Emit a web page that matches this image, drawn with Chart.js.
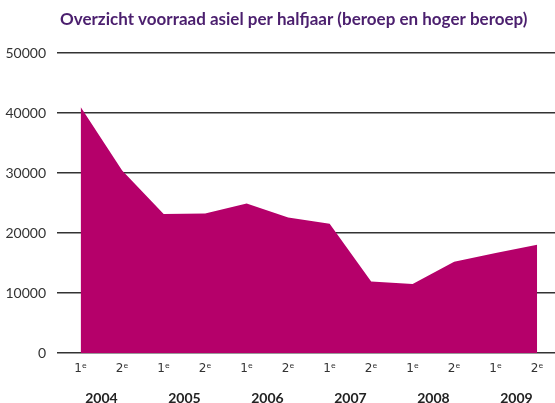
<!DOCTYPE html>
<html>
<head>
<meta charset="utf-8">
<script src="https://cdn.jsdelivr.net/npm/chart.js@4"></script>
<style>
    body { margin: 0; background: #fff; }
    #wrap { width: 555px; height: 403px; position: relative; }
</style>
</head>
<body>
<div id="wrap"><canvas id="myChart"></canvas></div>
<script>
// halfjaar labels and year groups
const halves = ["1ᵉ", "2ᵉ", "1ᵉ", "2ᵉ", "1ᵉ", "2ᵉ", "1ᵉ", "2ᵉ", "1ᵉ", "2ᵉ", "1ᵉ", "2ᵉ"];
const years = ["2004", "2005", "2006", "2007", "2008", "2009"];
// voorraad asiel (beroep en hoger beroep)
const voorraad = [41000, 30400, 23150, 23250, 24900, 22600, 21550, 11900, 11500, 15200, 16650, 18050];
const yTicks = [0, 10000, 20000, 30000, 40000, 50000];

const titleText = "Overzicht voorraad asiel per halfjaar (beroep en hoger beroep)";

// draw the title at the top-left, above the plot
const titlePlugin = {
    id: "customTitle",
    afterDraw(chart) {
        const c = chart.ctx;
        c.save();
        c.font = "bold 17px Lato";
        c.fillStyle = "#4b1f6e";
        c.textBaseline = "alphabetic";
        c.textAlign = "left";
        c.fillText(titleText, 60, 25);
        c.restore();
    }
};

const xMin = -0.57, xMax = 11.43;

var ctx = document.getElementById("myChart");
var myChart = new Chart(ctx, {
    type: "line",
    data: {
        datasets: [
            {
                label: "Voorraad",
                data: voorraad.map((v, i) => ({ x: i, y: v })),
                borderWidth: 0,
                borderColor: "#b5006a",
                backgroundColor: "#b5006a",
                pointRadius: 0,
                tension: 0,
                fill: "origin",
                xAxisID: "x"
            }
        ]
    },
    plugins: [titlePlugin],
    options: {
        responsive: true,
        maintainAspectRatio: false,
        animation: false,
        layout: { padding: { top: 53, left: 0, right: 0, bottom: 0 } },
        plugins: {
            legend: { display: false },
            title: { display: false },
            tooltip: { enabled: false }
        },
        scales: {
            x: {
                type: "linear",
                position: "bottom",
                min: xMin,
                max: xMax,
                afterBuildTicks: (scale) => { scale.ticks = halves.map((_, i) => ({ value: i })); },
                afterFit: (scale) => { scale.height = 24; },
                ticks: {
                    callback: (v) => halves[v],
                    color: "#333",
                    font: { family: "'DejaVu Sans', Lato", size: 12, lineHeight: 1 },
                    padding: 10,
                    maxRotation: 0,
                    autoSkip: false
                },
                grid: { display: false, drawTicks: false },
                border: { display: false }
            },
            x2: {
                type: "linear",
                position: "bottom",
                min: xMin,
                max: xMax,
                afterBuildTicks: (scale) => { scale.ticks = years.map((_, i) => ({ value: 2 * i + 0.5 })); },
                afterFit: (scale) => { scale.height = 26; },
                ticks: {
                    callback: (v) => years[(v - 0.5) / 2],
                    color: "#222",
                    font: { family: "Lato", size: 14, weight: "bold", lineHeight: 1 },
                    padding: 14,
                    maxRotation: 0,
                    autoSkip: false
                },
                grid: { display: false, drawTicks: false },
                border: { display: false }
            },
            y: {
                min: 0,
                max: 50000,
                afterBuildTicks: (scale) => { scale.ticks = yTicks.map(v => ({ value: v })); },
                afterFit: (scale) => { scale.width = 57; },
                ticks: {
                    callback: (v) => String(v),
                    color: "#333",
                    font: { family: "Lato", size: 14 },
                    padding: 11
                },
                grid: { color: "#333", lineWidth: 1.5, drawTicks: false },
                border: { display: false }
            }
        }
    }
});
</script>
</body>
</html>
